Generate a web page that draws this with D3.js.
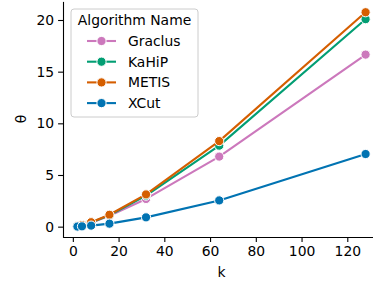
<!DOCTYPE html>
<html>
<head>
<meta charset="utf-8">
<script src="https://cdn.jsdelivr.net/npm/d3@7"></script>
<style>
  body { margin: 0; background: #fff; }
  svg { display: block; font-family: "DejaVu Sans", sans-serif; }
</style>
</head>
<body>
<svg id="chart" width="373" height="283"></svg>
<script>
// data
var ks = [2, 4, 8, 16, 32, 64, 128];
var seriesNames = ["Graclus", "KaHiP", "METIS", "XCut"];
var graclus = [0.04, 0.14, 0.38, 1.05, 2.68, 6.78, 16.65];
var kahip = [0.04, 0.15, 0.40, 1.10, 3.00, 7.84, 20.08];
var metis = [0.05, 0.16, 0.43, 1.15, 3.12, 8.28, 20.75];
var xcut = [0.01, 0.03, 0.10, 0.29, 0.90, 2.54, 7.03];
var xTicks = [0, 20, 40, 60, 80, 100, 120];
var yTicks = [0, 5, 10, 15, 20];

var colors = { "Graclus": "#cc78bc", "KaHiP": "#029e73", "METIS": "#d55e00", "XCut": "#0173b2" };
var values = { "Graclus": graclus, "KaHiP": kahip, "METIS": metis, "XCut": xcut };

var svg = d3.select("#chart");

// matplotlib style 5% margins on the data range
var x = d3.scaleLinear().domain([2 - 6.3, 128 + 6.3]).range([63, 380]);
var y = d3.scaleLinear().domain([-1.04, 21.8]).range([237.4, 1.4]);

// axes
var xAxis = svg.append("g")
    .attr("transform", "translate(0,237)")
    .call(d3.axisBottom(x).tickValues(xTicks).tickSize(4.9).tickPadding(4).tickSizeOuter(0));
var yAxis = svg.append("g")
    .attr("transform", "translate(63,0)")
    .call(d3.axisLeft(y).tickValues(yTicks).tickSize(4.9).tickPadding(4).tickSizeOuter(0));

[xAxis, yAxis].forEach(function (ax) {
    ax.selectAll("path").attr("stroke", "#000").attr("stroke-width", 1.1);
    ax.selectAll("line").attr("stroke", "#000").attr("stroke-width", 1.1);
    ax.selectAll("text").attr("fill", "#000").style("font-size", "13.9px")
        .style("font-family", "DejaVu Sans");
});

svg.append("text")
    .attr("x", 221.5).attr("y", 277)
    .attr("text-anchor", "middle")
    .style("font-size", "13.9px")
    .text("k");
svg.append("text")
    .attr("transform", "translate(26,119) rotate(-90)")
    .attr("text-anchor", "middle")
    .style("font-size", "13.9px")
    .text("θ");

// lines with markers
var line = d3.line()
    .x(function (d, i) { return x(ks[i]); })
    .y(function (d) { return y(d); });

var plot = svg.append("g");
seriesNames.forEach(function (name) {
    var g = plot.append("g");
    g.append("path")
        .datum(values[name])
        .attr("fill", "none")
        .attr("stroke", colors[name])
        .attr("stroke-width", 2.1)
        .attr("stroke-linejoin", "round")
        .attr("stroke-linecap", "square")
        .attr("d", line);
    g.selectAll("circle")
        .data(values[name])
        .enter().append("circle")
        .attr("cx", function (d, i) { return x(ks[i]); })
        .attr("cy", function (d) { return y(d); })
        .attr("r", 4.6)
        .attr("fill", colors[name])
        .attr("stroke", "#fff")
        .attr("stroke-width", 1);
});

// legend
var legend = svg.append("g");
legend.append("rect")
    .attr("x", 71).attr("y", 9)
    .attr("width", 127).attr("height", 108)
    .attr("rx", 3)
    .attr("fill", "#fff").attr("fill-opacity", 0.8)
    .attr("stroke", "#cccccc").attr("stroke-width", 1);
legend.append("text")
    .attr("x", 134.5).attr("y", 25)
    .attr("text-anchor", "middle")
    .style("font-size", "13.9px")
    .text("Algorithm Name");
seriesNames.forEach(function (name, i) {
    var cy = 41 + i * 20.7;
    legend.append("line")
        .attr("x1", 87).attr("x2", 116)
        .attr("y1", cy).attr("y2", cy)
        .attr("stroke", colors[name]).attr("stroke-width", 2.1);
    legend.append("circle")
        .attr("cx", 101.5).attr("cy", cy).attr("r", 4.6)
        .attr("fill", colors[name]).attr("stroke", "#fff").attr("stroke-width", 1);
    legend.append("text")
        .attr("x", 128).attr("y", cy + 5)
        .style("font-size", "13.9px")
        .text(name);
});
</script>
</body>
</html>
